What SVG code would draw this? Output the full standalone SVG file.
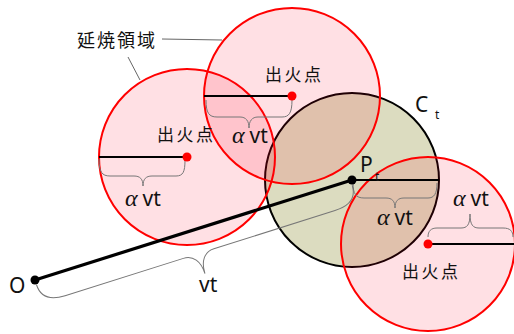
<svg xmlns="http://www.w3.org/2000/svg" width="514" height="334" viewBox="0 0 514 334">
<style>
.fire{fill:#ff0020;fill-opacity:0.12;stroke:#ff0000;stroke-width:2}
.ct{fill:#dcdcc0;stroke:#000;stroke-width:2}
.rad{stroke:#000;stroke-width:2;fill:none}
.brace{fill:none;stroke:#777;stroke-width:1}
.lead{fill:none;stroke:#666;stroke-width:1}
.jp{font-family:"Noto Sans CJK JP","Noto Sans",sans-serif;font-size:17px;letter-spacing:2.5px;fill:#111}
.lbl{font-family:"Noto Sans","DejaVu Sans",sans-serif;font-size:21px;fill:#111}
.al{font-family:"Liberation Serif",serif;font-style:italic;font-size:24px;fill:#111}
.sub{font-family:"Noto Sans","DejaVu Sans",sans-serif;font-size:12px;fill:#111}
</style>
<g id="ct-circle"><circle class="ct" cx="352" cy="180" r="87"/></g>
<g id="fire1"><circle class="fire" cx="187" cy="157" r="88"/></g>
<g id="fire2"><circle class="fire" cx="292" cy="96" r="88"/></g>
<g id="fire3"><circle class="fire" cx="428" cy="244" r="87"/></g>
<g id="connectors">
<line class="rad" x1="99" y1="157" x2="187" y2="157"/>
<line class="rad" x1="204" y1="96" x2="292" y2="96"/>
<line class="rad" x1="352" y1="180" x2="439" y2="180"/>
<line class="rad" x1="428" y1="244" x2="514" y2="244"/>
<line x1="35" y1="280" x2="352" y2="180" stroke="#000" stroke-width="3.2"/>
<path class="brace" d="M99,159 C99,172 102,176 110,176 L134,176 C140,176 143,179 143,186 C143,179 146,176 152,176 L176,176 C183,176 185,172 185,160"/>
<path class="brace" d="M206,100 C206,113 209,117 217,117 L240,117 C246,117 249,121 249,128 C249,121 252,117 258,117 L282,117 C289,117 292,113 292,100"/>
<path class="brace" d="M353,183 C353,194 356,198 364,198 L386,198 C392,198 395,201 395,208 C395,201 398,198 404,198 L428,198 C434,198 437,194 437,183"/>
<path class="brace" d="M428,237 C428,231 431,228 437,228 L461,228 C467,228 470,225 470,214 C470,225 473,228 479,228 L503,228 C510,228 513,231 513,237"/>
<path class="brace" transform="translate(35,280) rotate(-17.5)" d="M0,5 C0,18 8,24 24,24 L148,24 C158,24 164,32 164,45 C164,32 170,24 180,24 L307,24 C323,24 331,18 331,5"/>
<line class="lead" x1="162" y1="39" x2="222" y2="40"/>
<line class="lead" x1="128" y1="57" x2="140" y2="80"/>
</g>
<g id="points">
<circle cx="187" cy="157" r="4.5" fill="#ff0000"/>
<circle cx="292" cy="96" r="4.5" fill="#ff0000"/>
<circle cx="428" cy="244" r="4.5" fill="#ff0000"/>
<circle cx="352" cy="180" r="4.5" fill="#000"/>
<circle cx="35" cy="280" r="4.5" fill="#000"/>
</g>
<g id="labels">
<text class="jp" x="77" y="47" style="font-size:18px;letter-spacing:2px">延焼領域</text>
<text class="jp" x="157" y="141">出火点</text>
<text class="jp" x="265" y="81">出火点</text>
<text class="jp" x="402" y="278">出火点</text>
<text x="125" y="206"><tspan class="al">α</tspan><tspan class="lbl" dx="5">vt</tspan></text>
<text x="232" y="143"><tspan class="al">α</tspan><tspan class="lbl" dx="5">vt</tspan></text>
<text x="377" y="225"><tspan class="al">α</tspan><tspan class="lbl" dx="5">vt</tspan></text>
<text x="453" y="206"><tspan class="al">α</tspan><tspan class="lbl" dx="5">vt</tspan></text>
<text class="lbl" x="199" y="292">vt</text>
<text class="lbl" x="9" y="293">O</text>
<text class="lbl" x="360" y="172">P</text>
<text class="sub" x="375" y="181">t</text>
<text class="lbl" x="415" y="112">C</text>
<text class="sub" x="435" y="119">t</text>
</g>
</svg>
